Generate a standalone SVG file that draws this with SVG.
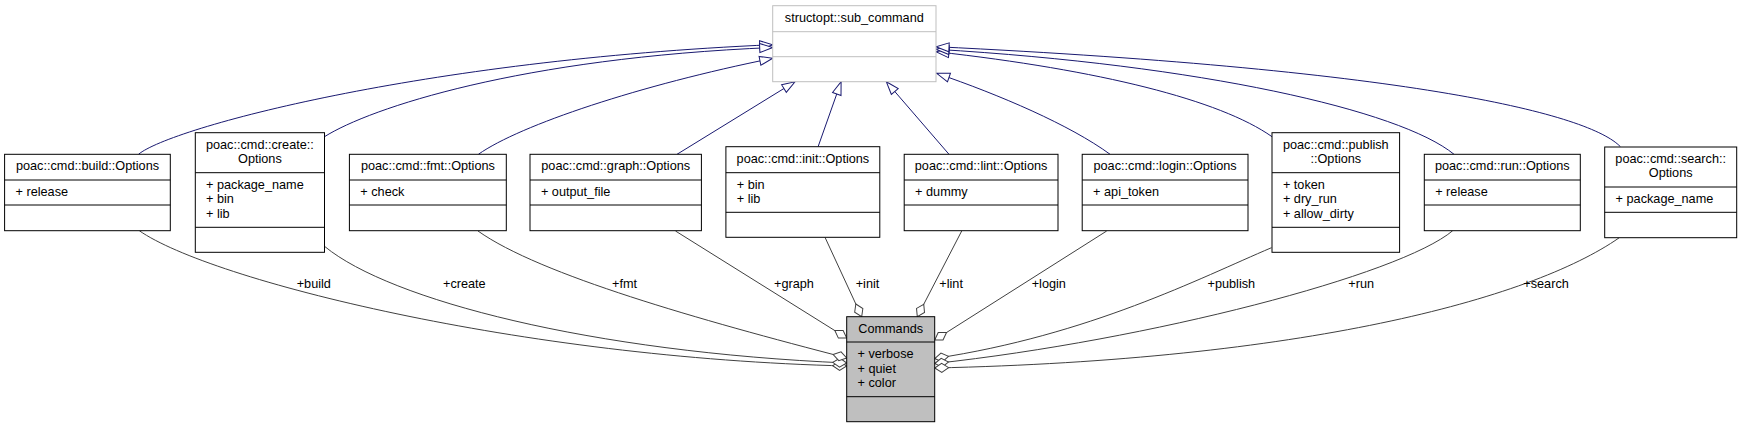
<svg xmlns="http://www.w3.org/2000/svg" width="1742" height="428" viewBox="0 0 1742 428">
<style>
text{font-family:"Liberation Sans",Arial,sans-serif;font-size:12.7px;fill:#000}
.c{text-anchor:middle}
.box{fill:#fff;stroke:#000;stroke-width:1}
.sep{stroke:#000;stroke-width:1}
.base{fill:#fff;stroke:#bfbfbf;stroke-width:1}
.basesep{stroke:#bfbfbf;stroke-width:1}
.cmd{fill:#bfbfbf;stroke:#000;stroke-width:1}
.inh{fill:none;stroke:#191970;stroke-width:1;marker-end:url(#tri)}
.agg{fill:none;stroke:#404040;stroke-width:1;marker-end:url(#dia)}
</style>
<defs>
<marker id="tri" markerUnits="userSpaceOnUse" markerWidth="16" markerHeight="12" refX="14" refY="5.5" orient="auto" overflow="visible">
<path d="M1,1 L14,5.5 L1,10 z" fill="#fff" stroke="#191970" stroke-width="1"/>
</marker>
<marker id="dia" markerUnits="userSpaceOnUse" markerWidth="17" markerHeight="12" refX="15" refY="5.5" orient="auto" overflow="visible">
<path d="M1,5.5 L8,1 L15,5.5 L8,10 z" fill="#fff" stroke="#404040" stroke-width="1"/>
</marker>
</defs>

<g id="connectors">
<path class="inh" d="M138.5,154.3 C170,128 420,60 772.7,44.7"/>
<path class="inh" d="M324.5,136.7 C370,108 520,58 772.7,47.5"/>
<path class="inh" d="M478.4,154.3 C520,125 640,85 772.7,58.3"/>
<path class="inh" d="M677,154.3 L795,81.7"/>
<path class="inh" d="M818.1,146.7 L841.1,81.7"/>
<path class="inh" d="M949,154.3 L886.3,81.7"/>
<path class="inh" d="M1110.1,154.3 C1070,125 1000,95 936.7,73.3"/>
<path class="inh" d="M1272,136.7 C1220,100 1100,70 936,51.7"/>
<path class="inh" d="M1454,154.3 C1400,110 1200,65 936,49.3"/>
<path class="inh" d="M1620.4,146.7 C1590,115 1420,70 936,46.7"/>

<path class="agg" d="M139.3,230.7 C210,280 520,358 846.7,366"/>
<path class="agg" d="M325,246.7 C390,300 590,352 846.7,363"/>
<path class="agg" d="M478,231 C540,275 700,320 846.7,358"/>
<path class="agg" d="M675.5,231 L846.7,338"/>
<path class="agg" d="M825,237.3 L861.7,316.7"/>
<path class="agg" d="M961.7,231 L917.3,316.7"/>
<path class="agg" d="M1106.7,231 L934.7,340"/>
<path class="agg" d="M1271.5,247.7 C1200,278 1090,335 934.7,358.5"/>
<path class="agg" d="M1452.7,230.7 C1400,275 1150,340 934.7,363.5"/>
<path class="agg" d="M1619.3,237.7 C1530,300 1300,360 934.7,368"/>

<text x="296.7" y="287.5">+build</text>
<text x="443" y="287.5">+create</text>
<text x="612" y="287.5">+fmt</text>
<text x="774" y="287.5">+graph</text>
<text x="855.7" y="287.5">+init</text>
<text x="939.3" y="287.5">+lint</text>
<text x="1031.7" y="287.5">+login</text>
<text x="1207.5" y="287.5">+publish</text>
<text x="1348.3" y="287.5">+run</text>
<text x="1523.3" y="287.5">+search</text>
</g>

<g id="structopt_sub_command">
<rect class="base" x="772.7" y="5.7" width="163.3" height="76"/>
<line class="basesep" x1="772.7" y1="31.7" x2="936" y2="31.7"/>
<line class="basesep" x1="772.7" y1="56.7" x2="936" y2="56.7"/>
<text class="c" x="854.3" y="21.7">structopt::sub_command</text>
</g>

<g id="build_Options">
<rect class="box" x="4.6" y="154.3" width="165.7" height="76.4"/>
<line class="sep" x1="4.6" y1="180" x2="170.3" y2="180"/>
<line class="sep" x1="4.6" y1="205" x2="170.3" y2="205"/>
<text class="c" x="87.5" y="170.3">poac::cmd::build::Options</text>
<text x="15.5" y="196">+ release</text>
</g>

<g id="create_Options">
<rect class="box" x="195.3" y="132.7" width="129.2" height="119.6"/>
<line class="sep" x1="195.3" y1="172.7" x2="324.5" y2="172.7"/>
<line class="sep" x1="195.3" y1="227.3" x2="324.5" y2="227.3"/>
<text class="c" x="259.9" y="148.7">poac::cmd::create::</text>
<text class="c" x="259.9" y="162.7">Options</text>
<text x="206" y="188.7">+ package_name</text>
<text x="206" y="203.2">+ bin</text>
<text x="206" y="217.7">+ lib</text>
</g>

<g id="fmt_Options">
<rect class="box" x="349.4" y="154.3" width="156.9" height="76.4"/>
<line class="sep" x1="349.4" y1="180" x2="506.3" y2="180"/>
<line class="sep" x1="349.4" y1="205" x2="506.3" y2="205"/>
<text class="c" x="427.9" y="170.3">poac::cmd::fmt::Options</text>
<text x="360.3" y="196">+ check</text>
</g>

<g id="graph_Options">
<rect class="box" x="530" y="154.3" width="171.4" height="76.4"/>
<line class="sep" x1="530" y1="180" x2="701.4" y2="180"/>
<line class="sep" x1="530" y1="205" x2="701.4" y2="205"/>
<text class="c" x="615.7" y="170.3">poac::cmd::graph::Options</text>
<text x="540.9" y="196">+ output_file</text>
</g>

<g id="init_Options">
<rect class="box" x="725.9" y="146.7" width="153.9" height="90.6"/>
<line class="sep" x1="725.9" y1="172.7" x2="879.8" y2="172.7"/>
<line class="sep" x1="725.9" y1="212.3" x2="879.8" y2="212.3"/>
<text class="c" x="802.9" y="162.7">poac::cmd::init::Options</text>
<text x="736.8" y="188.7">+ bin</text>
<text x="736.8" y="203.2">+ lib</text>
</g>

<g id="lint_Options">
<rect class="box" x="904.2" y="154.3" width="153.8" height="76.4"/>
<line class="sep" x1="904.2" y1="180" x2="1058" y2="180"/>
<line class="sep" x1="904.2" y1="205" x2="1058" y2="205"/>
<text class="c" x="981.1" y="170.3">poac::cmd::lint::Options</text>
<text x="915.1" y="196">+ dummy</text>
</g>

<g id="login_Options">
<rect class="box" x="1082.2" y="154.3" width="165.8" height="76.4"/>
<line class="sep" x1="1082.2" y1="180" x2="1248" y2="180"/>
<line class="sep" x1="1082.2" y1="205" x2="1248" y2="205"/>
<text class="c" x="1165.1" y="170.3">poac::cmd::login::Options</text>
<text x="1093.1" y="196">+ api_token</text>
</g>

<g id="publish_Options">
<rect class="box" x="1272" y="132.7" width="127.6" height="119.6"/>
<line class="sep" x1="1272" y1="172.7" x2="1399.6" y2="172.7"/>
<line class="sep" x1="1272" y1="227.3" x2="1399.6" y2="227.3"/>
<text class="c" x="1335.8" y="148.7">poac::cmd::publish</text>
<text class="c" x="1335.8" y="162.7">::Options</text>
<text x="1282.9" y="188.7">+ token</text>
<text x="1282.9" y="203.2">+ dry_run</text>
<text x="1282.9" y="217.7">+ allow_dirty</text>
</g>

<g id="run_Options">
<rect class="box" x="1424.3" y="154.3" width="156" height="76.4"/>
<line class="sep" x1="1424.3" y1="180" x2="1580.3" y2="180"/>
<line class="sep" x1="1424.3" y1="205" x2="1580.3" y2="205"/>
<text class="c" x="1502.3" y="170.3">poac::cmd::run::Options</text>
<text x="1435.2" y="196">+ release</text>
</g>

<g id="search_Options">
<rect class="box" x="1604.7" y="147" width="132" height="90.7"/>
<line class="sep" x1="1604.7" y1="187" x2="1736.7" y2="187"/>
<line class="sep" x1="1604.7" y1="212.3" x2="1736.7" y2="212.3"/>
<text class="c" x="1670.7" y="163">poac::cmd::search::</text>
<text class="c" x="1670.7" y="177">Options</text>
<text x="1615.6" y="203">+ package_name</text>
</g>

<g id="Commands">
<rect class="cmd" x="846.7" y="316.7" width="88" height="105"/>
<line class="sep" x1="846.7" y1="342" x2="934.7" y2="342"/>
<line class="sep" x1="846.7" y1="396.7" x2="934.7" y2="396.7"/>
<text class="c" x="890.7" y="332.7">Commands</text>
<text x="857.5" y="358">+ verbose</text>
<text x="857.5" y="372.5">+ quiet</text>
<text x="857.5" y="387">+ color</text>
</g>
</svg>
